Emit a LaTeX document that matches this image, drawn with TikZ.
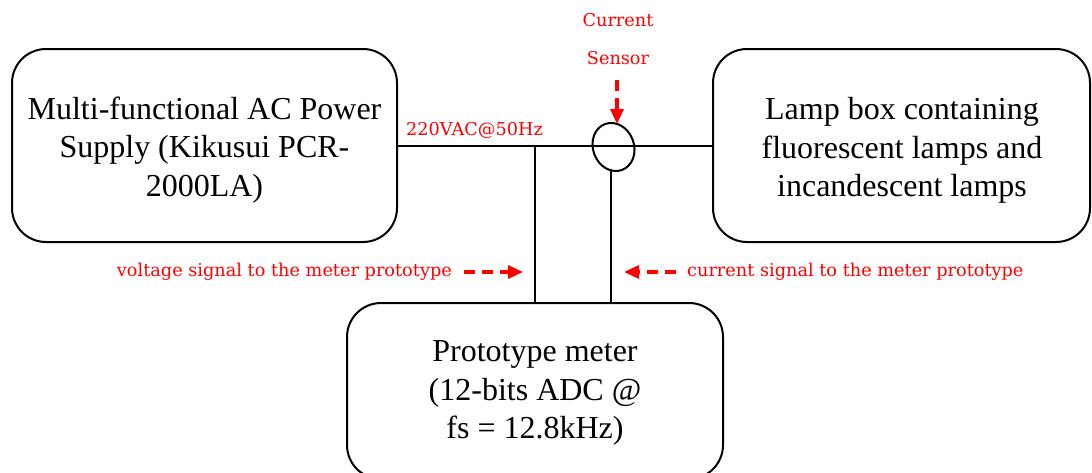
\documentclass[tikz,border=0pt]{standalone}
\usepackage{fontspec}
\setmainfont{Liberation Serif}
\newfontfamily\redfont{DejaVu Serif}
\usetikzlibrary{arrows.meta,shapes.geometric}
\begin{document}
\begin{tikzpicture}[x=1pt,y=-1pt,
  blockbox/.style={draw=black,line width=2pt,rounded corners=34pt,inner sep=0pt},
  blocktext/.style={align=center,font=\fontsize{32}{38.5}\selectfont,inner sep=0pt},
  wire/.style={draw=black,line width=2pt},
  redlabel/.style={text=red,font=\redfont\fontsize{17.7}{38}\selectfont,inner sep=0pt,align=center},
  redarrow/.style={draw=red,line width=3.2pt,dash pattern=on 11pt off 7pt,
    -{Triangle[length=15pt,width=13pt]}}]
\useasboundingbox (0,0) rectangle (1092,472);
% blocks
\node[blockbox,minimum width=385pt,minimum height=193pt] (psu) at (204.5,145.5) {};
\node[blocktext] (psutext) at (204.5,150)
  {Multi-functional AC Power\\Supply (Kikusui PCR-\\2000LA)};
\node[blockbox,minimum width=377pt,minimum height=193pt] (lamp) at (901.5,145.5) {};
\node[blocktext] (lamptext) at (902,150.5)
  {Lamp box containing\\fluorescent lamps and\\incandescent lamps};
\node[blockbox,minimum width=376pt,minimum height=176pt] (meter) at (535,391) {};
\node[blocktext] (metertext) at (535,393)
  {Prototype meter\\(12-bits ADC @\\fs = 12.8kHz)};
% current sensor
\node[draw=black,line width=2pt,ellipse,rotate=20,minimum width=41pt,minimum height=49pt,inner sep=0pt] (cs) at (613.5,147) {};
% wires
\draw[wire] (psu.east) -- (lamp.west);
\coordinate (j1) at (535,145.5);
\draw[wire] (j1) -- (j1 |- meter.north);
\coordinate (csb) at (611,169);
\draw[wire] (csb) -- (csb |- meter.north);
% red labels
\node[redlabel] (cur) at (618,39) {Current\\Sensor};
\node[redlabel,anchor=west] (vac) at (406,130) {220VAC@50Hz};
\node[redlabel,anchor=east] (vlab) at (452,272) {voltage signal to the meter prototype};
\node[redlabel,anchor=west] (clab) at (687,272) {current signal to the meter prototype};
% red arrows
\coordinate (sa1) at (617,80);
\coordinate (sa2) at (617,124);
\draw[redarrow] (sa1) -- (sa2);
\coordinate (va1) at (464,272);
\coordinate (va2) at (523,272);
\draw[redarrow] (va1) -- (va2);
\coordinate (ca1) at (676,272);
\coordinate (ca2) at (624,272);
\draw[redarrow] (ca1) -- (ca2);
\end{tikzpicture}
\end{document}
